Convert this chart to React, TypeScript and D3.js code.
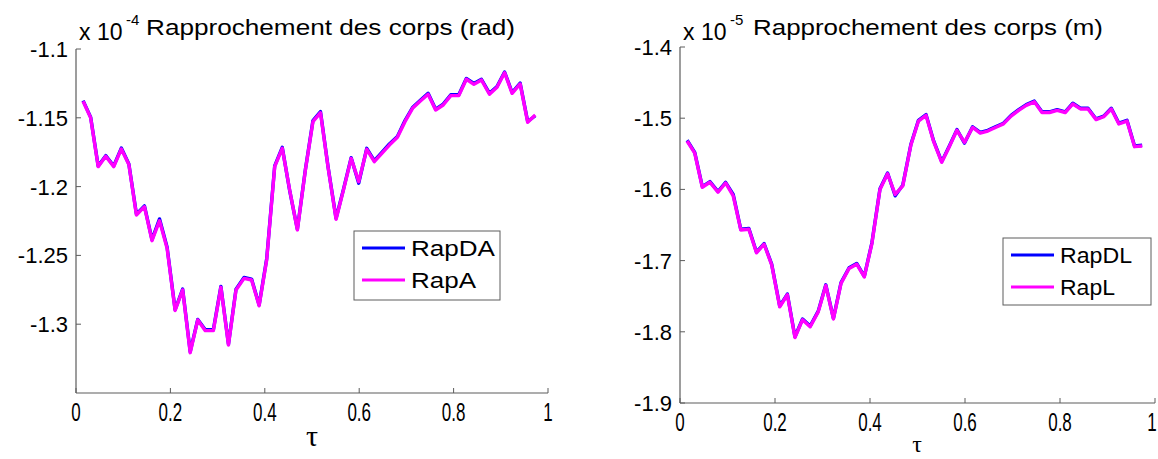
import React from "react";
import * as d3 from "d3";

// Sample positions (tau), shared by both panels
const tau = [
  0.015, 0.031, 0.047, 0.063, 0.080, 0.096, 0.112, 0.128, 0.145, 0.161,
  0.177, 0.193, 0.210, 0.226, 0.242, 0.258, 0.274, 0.291, 0.307, 0.323,
  0.339, 0.356, 0.372, 0.388, 0.404, 0.421, 0.437, 0.453, 0.469, 0.486,
  0.502, 0.518, 0.534, 0.551, 0.567, 0.583, 0.599, 0.616, 0.632, 0.648,
  0.664, 0.681, 0.697, 0.713, 0.729, 0.746, 0.762, 0.778, 0.794, 0.811,
  0.827, 0.843, 0.859, 0.876, 0.892, 0.908, 0.924, 0.941, 0.957, 0.973,
];

// Left panel (x 1e-4 rad)
const rapDA = [
  -1.1375, -1.1495, -1.185, -1.1775, -1.185, -1.172, -1.1835, -1.22, -1.214, -1.2385,
  -1.2235, -1.244, -1.2895, -1.2745, -1.32, -1.2965, -1.304, -1.304, -1.2725, -1.3145,
  -1.2745, -1.266, -1.2672, -1.286, -1.2525, -1.185, -1.1715, -1.2035, -1.231, -1.1875,
  -1.152, -1.1455, -1.1855, -1.223, -1.2015, -1.179, -1.1975, -1.1722, -1.1812, -1.1752,
  -1.169, -1.1635, -1.152, -1.1425, -1.1375, -1.1322, -1.1438, -1.14, -1.1333, -1.1333,
  -1.1214, -1.125, -1.122, -1.1322, -1.1272, -1.1167, -1.1316, -1.1248, -1.1527, -1.1485,
];
const rapA = [
  -1.138, -1.15, -1.1855, -1.178, -1.1855, -1.1727, -1.184, -1.2206, -1.2146, -1.2393,
  -1.2248, -1.2449, -1.29, -1.2751, -1.3207, -1.2969, -1.3047, -1.3047, -1.2732, -1.3151,
  -1.2751, -1.2667, -1.2679, -1.2866, -1.2533, -1.1855, -1.1722, -1.203, -1.2315, -1.188,
  -1.1528, -1.1463, -1.186, -1.2238, -1.202, -1.1795, -1.1964, -1.1729, -1.1819, -1.1758,
  -1.1698, -1.1642, -1.1528, -1.1431, -1.138, -1.1329, -1.1443, -1.1407, -1.1339, -1.1339,
  -1.122, -1.1257, -1.1225, -1.1329, -1.1278, -1.1172, -1.1322, -1.1254, -1.1533, -1.148,
];

// Right panel (x 1e-5 m)
const rapDL = [
  -1.531, -1.548, -1.596, -1.589, -1.603, -1.590, -1.607, -1.656, -1.655, -1.688,
  -1.676, -1.705, -1.764, -1.747, -1.807, -1.782, -1.792, -1.771, -1.734, -1.781,
  -1.731, -1.710, -1.704, -1.722, -1.675, -1.599, -1.577, -1.609, -1.594, -1.537,
  -1.503, -1.495, -1.532, -1.561, -1.539, -1.516, -1.535, -1.512, -1.520, -1.517,
  -1.512, -1.507, -1.496, -1.488, -1.481, -1.476, -1.491, -1.491, -1.488, -1.491,
  -1.479, -1.486, -1.486, -1.501, -1.497, -1.486, -1.507, -1.503, -1.539, -1.538,
];
const rapL = [
  -1.532, -1.549, -1.597, -1.59, -1.604, -1.591, -1.609, -1.657, -1.656, -1.689,
  -1.677, -1.706, -1.765, -1.748, -1.808, -1.783, -1.793, -1.772, -1.735, -1.782,
  -1.732, -1.711, -1.705, -1.723, -1.676, -1.6, -1.578, -1.607, -1.595, -1.538,
  -1.504, -1.496, -1.533, -1.562, -1.54, -1.517, -1.534, -1.513, -1.521, -1.518,
  -1.513, -1.508, -1.497, -1.489, -1.482, -1.477, -1.492, -1.492, -1.489, -1.492,
  -1.48, -1.487, -1.487, -1.502, -1.498, -1.487, -1.508, -1.504, -1.54, -1.539,
];

const xTicks = [0, 0.2, 0.4, 0.6, 0.8, 1];
const xTickLabels = ["0", "0.2", "0.4", "0.6", "0.8", "1"];
const yTicksA = [-1.3, -1.25, -1.2, -1.15, -1.1];
const yTickLabelsA = ["-1.3", "-1.25", "-1.2", "-1.15", "-1.1"];
const yTicksL = [-1.9, -1.8, -1.7, -1.6, -1.5, -1.4];
const yTickLabelsL = ["-1.9", "-1.8", "-1.7", "-1.6", "-1.5", "-1.4"];

const AX = "#5c5c5c";
const SANS = "'Liberation Sans', Arial, sans-serif";

type PanelProps = {
  x0: number; x1: number; yTop: number; yBot: number;
  yDomain: [number, number];
  yTicks: number[]; yLabels: string[];
  blue: number[]; mag: number[];
  names: [string, string];
  exponent: string;
  title: string;
  titleX: number; titleLen: number;
  xLabelY: number; tauX: number; tauY: number; tauSize: number;
  legend: { x: number; y: number; w: number; h: number; textLens: [number, number] };
};

function Panel(p: PanelProps) {
  const x = d3.scaleLinear().domain([0, 1]).range([p.x0, p.x1]);
  const y = d3.scaleLinear().domain(p.yDomain).range([p.yBot, p.yTop]);
  const line = d3.line<number>().x((_, i) => x(tau[i])).y((v) => y(v));
  const lg = p.legend;
  return (
    <g>
      {/* axes */}
      <line x1={p.x0} x2={p.x0} y1={p.yTop} y2={p.yBot} stroke={AX} strokeWidth={1.2} />
      <line x1={p.x0} x2={p.x1} y1={p.yBot} y2={p.yBot} stroke={AX} strokeWidth={1.2} />
      {xTicks.map((t, i) => (
        <g key={"xt" + i}>
          <line x1={x(t)} x2={x(t)} y1={p.yBot} y2={p.yBot - 5} stroke={AX} strokeWidth={1} />
          <text
            transform={`translate(${Math.min(x(t), 1152)},${p.xLabelY}) scale(0.68,1)`}
            textAnchor="middle"
            fontFamily={SANS}
            fontSize={25}
            fill="#000"
          >
            {xTickLabels[i]}
          </text>
        </g>
      ))}
      {p.yTicks.map((t, i) => (
        <g key={"yt" + i}>
          <line x1={p.x0} x2={p.x0 + 5} y1={y(t)} y2={y(t)} stroke={AX} strokeWidth={1} />
          <text x={p.x0 - 8} y={y(t)} dy="0.36em" textAnchor="end" fontFamily={SANS} fontSize={22} fill="#000">
            {p.yLabels[i]}
          </text>
        </g>
      ))}
      {/* series */}
      <path d={line(p.blue) || ""} fill="none" stroke="#0000ff" strokeWidth={3.4} strokeLinejoin="round" />
      <path d={line(p.mag) || ""} fill="none" stroke="#ff00ff" strokeWidth={3.4} strokeLinejoin="round" />
      {/* exponent + title */}
      <text x={p.x0 + 3} y={40} fontFamily={SANS} fontSize={23} fill="#000">x 10</text>
      <text x={p.x0 + 50} y={25} fontFamily={SANS} fontSize={15} fill="#000">{p.exponent}</text>
      <text x={p.titleX} y={35} fontFamily={SANS} fontSize={22} fill="#000" textLength={p.titleLen} lengthAdjust="spacingAndGlyphs">
        {p.title}
      </text>
      {/* x label */}
      <text x={p.tauX} y={p.tauY} textAnchor="middle" fontFamily="'Liberation Serif', 'Times New Roman', serif" fontSize={p.tauSize} fill="#000">
        τ
      </text>
      {/* legend */}
      <rect x={lg.x} y={lg.y} width={lg.w} height={lg.h} fill="#fff" stroke={AX} strokeWidth={1} />
      {[0, 1].map((k) => {
        const ry = lg.y + 17 + k * 32;
        return (
          <g key={"lg" + k}>
            <line x1={lg.x + 8} x2={lg.x + 51} y1={ry} y2={ry} stroke={k === 0 ? "#0000ff" : "#ff00ff"} strokeWidth={3} />
            <text x={lg.x + 57} y={ry + 8} fontFamily={SANS} fontSize={22} fill="#000" textLength={lg.textLens[k]} lengthAdjust="spacingAndGlyphs">
              {p.names[k]}
            </text>
          </g>
        );
      })}
    </g>
  );
}

export default function App() {
  return (
    <svg
      width={1158}
      height={459}
      style={{ position: "absolute", left: 0, top: 0, background: "#fff" }}
    >
      <rect x={0} y={0} width={1158} height={459} fill="#fff" />
      <Panel
        x0={76} x1={548} yTop={49} yBot={393}
        yDomain={[-1.35, -1.1]}
        yTicks={yTicksA} yLabels={yTickLabelsA}
        blue={rapDA} mag={rapA}
        names={["RapDA", "RapA"]}
        exponent="-4"
        title="Rapprochement des corps (rad)"
        titleX={146} titleLen={369}
        xLabelY={421} tauX={312} tauY={446} tauSize={30}
        legend={{ x: 354, y: 231, w: 146, h: 69, textLens: [84, 65] }}
      />
      <Panel
        x0={680} x1={1155} yTop={47} yBot={403}
        yDomain={[-1.9, -1.4]}
        yTicks={yTicksL} yLabels={yTickLabelsL}
        blue={rapDL} mag={rapL}
        names={["RapDL", "RapL"]}
        exponent="-5"
        title="Rapprochement des corps (m)"
        titleX={753} titleLen={350}
        xLabelY={431} tauX={917} tauY={452} tauSize={24}
        legend={{ x: 1003, y: 238, w: 148, h: 67, textLens: [72, 55] }}
      />
    </svg>
  );
}
